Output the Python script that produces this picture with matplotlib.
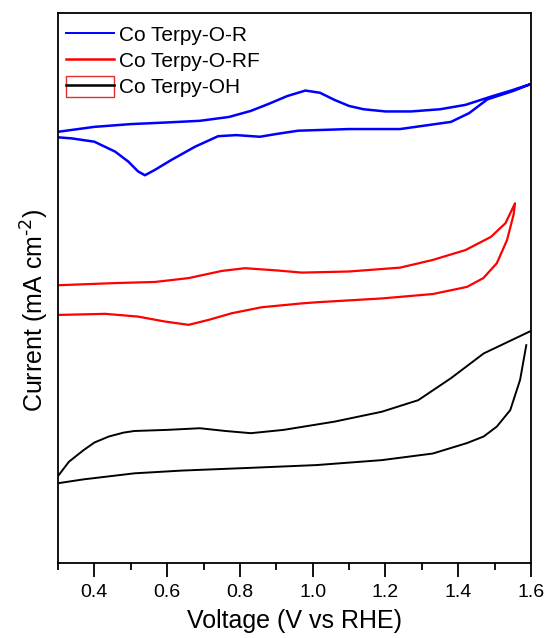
import numpy as np
import matplotlib.pyplot as plt
from matplotlib.lines import Line2D
from matplotlib.patches import Rectangle
from matplotlib.legend_handler import HandlerTuple

plt.rcParams['font.family'] = ['Liberation Sans', 'DejaVu Sans']

# Co Terpy-O-R: anodic sweep then cathodic return (V, arbitrary offset current)
r_fwd_v = [0.30, 0.40, 0.50, 0.60, 0.69, 0.77, 0.83, 0.88, 0.93, 0.98, 1.02, 1.06,
           1.10, 1.14, 1.20, 1.27, 1.35, 1.42, 1.49, 1.55, 1.60]
r_fwd_i = [78.4, 79.3, 79.8, 80.1, 80.4, 81.1, 82.2, 83.5, 84.9, 85.9, 85.5, 84.2,
           83.1, 82.5, 82.1, 82.1, 82.5, 83.3, 84.8, 86.0, 87.1]
r_rev_v = [1.60, 1.55, 1.48, 1.43, 1.38, 1.24, 1.10, 0.96, 0.90, 0.855, 0.79, 0.74,
           0.72, 0.677, 0.612, 0.567, 0.539, 0.52, 0.493, 0.457, 0.40, 0.338, 0.30]
r_rev_i = [87.1, 85.8, 84.3, 81.8, 80.2, 78.9, 78.9, 78.6, 78.0, 77.5, 77.8, 77.6,
           77.0, 75.7, 73.3, 71.5, 70.5, 71.2, 73.0, 74.8, 76.6, 77.2, 77.4]

# Co Terpy-O-RF
rf_fwd_v = [0.30, 0.46, 0.567, 0.659, 0.75, 0.814, 0.90, 0.97, 1.10, 1.24, 1.33,
            1.42, 1.49, 1.53, 1.556]
rf_fwd_i = [50.5, 50.9, 51.1, 51.8, 53.1, 53.6, 53.2, 52.8, 53.0, 53.7, 55.1,
            56.9, 59.3, 61.8, 65.4]
rf_rev_v = [1.556, 1.552, 1.534, 1.506, 1.469, 1.424, 1.33, 1.19, 1.01, 0.97, 0.86,
            0.777, 0.714, 0.659, 0.594, 0.52, 0.43, 0.30]
rf_rev_i = [65.4, 63.3, 58.7, 54.5, 51.8, 50.2, 48.9, 48.1, 47.4, 47.2, 46.5,
            45.4, 44.2, 43.3, 43.9, 44.8, 45.3, 45.1]

# Co Terpy-OH (upper branch runs to the axis edge, lower branch stops short)
oh_up_v = [0.30, 0.33, 0.37, 0.40, 0.44, 0.48, 0.51, 0.60, 0.69, 0.76, 0.83, 0.92,
           1.06, 1.19, 1.29, 1.38, 1.47, 1.60]
oh_up_i = [15.8, 18.4, 20.5, 21.9, 23.0, 23.7, 24.0, 24.2, 24.5, 24.0, 23.6, 24.2,
           25.7, 27.5, 29.6, 33.6, 38.1, 42.2]
oh_lo_v = [1.587, 1.57, 1.543, 1.506, 1.47, 1.424, 1.33, 1.19, 1.01, 0.83, 0.64,
           0.51, 0.37, 0.30]
oh_lo_i = [39.6, 33.3, 27.8, 24.8, 23.0, 21.8, 19.9, 18.7, 17.8, 17.3, 16.8,
           16.3, 15.2, 14.5]

labels = ['Co Terpy-O-R', 'Co Terpy-O-RF', 'Co Terpy-OH']
colors = ['#0000ff', '#ff0000', '#000000']

fig = plt.figure(figsize=(5.48, 6.38), dpi=100)
ax = fig.add_axes([0.1058, 0.1176, 0.8632, 0.862])

ax.plot(r_fwd_v + r_rev_v, r_fwd_i + r_rev_i, color=colors[0], lw=1.8)
ax.plot(rf_fwd_v + rf_rev_v, rf_fwd_i + rf_rev_i, color=colors[1], lw=1.6)
ax.plot(oh_up_v + [np.nan] + oh_lo_v, oh_up_i + [np.nan] + oh_lo_i,
        color=colors[2], lw=1.4)

ax.set_xlim(0.3, 1.6)
ax.set_ylim(0, 100)
ax.set_xticks(np.arange(0.4, 1.61, 0.2))
ax.set_xticks(np.arange(0.3, 1.61, 0.2), minor=True)
ax.set_yticks([])
ax.tick_params(axis='x', which='major', direction='out', length=10, width=1.3,
               labelsize=14, pad=5)
ax.tick_params(axis='x', which='minor', direction='out', length=5, width=1.3)
for s in ax.spines.values():
    s.set_linewidth(1.3)

ax.set_xlabel('Voltage (V vs RHE)', fontsize=18, labelpad=6)
ax.set_ylabel(r'Current (mA cm$^{\text{-2}}$)', fontsize=18)
ax.yaxis.set_label_coords(-0.014, 0.46)

handles = [Line2D([], [], color=colors[0], lw=1.4),
           Line2D([], [], color=colors[1], lw=1.8),
           (Rectangle((0, 0), 1, 1, facecolor='none', edgecolor='#e03030', lw=1.0),
            Line2D([], [], color=colors[2], lw=1.8))]
ax.legend(handles, labels, loc='upper left', bbox_to_anchor=(0.0, 0.995),
          frameon=False, fontsize=15, handlelength=2.3, handleheight=1.15,
          handletextpad=0.25, labelspacing=0.22, borderaxespad=0.2, borderpad=0.2,
          handler_map={tuple: HandlerTuple(ndivide=1, pad=0)})

fig.savefig('out.png', dpi=100)
